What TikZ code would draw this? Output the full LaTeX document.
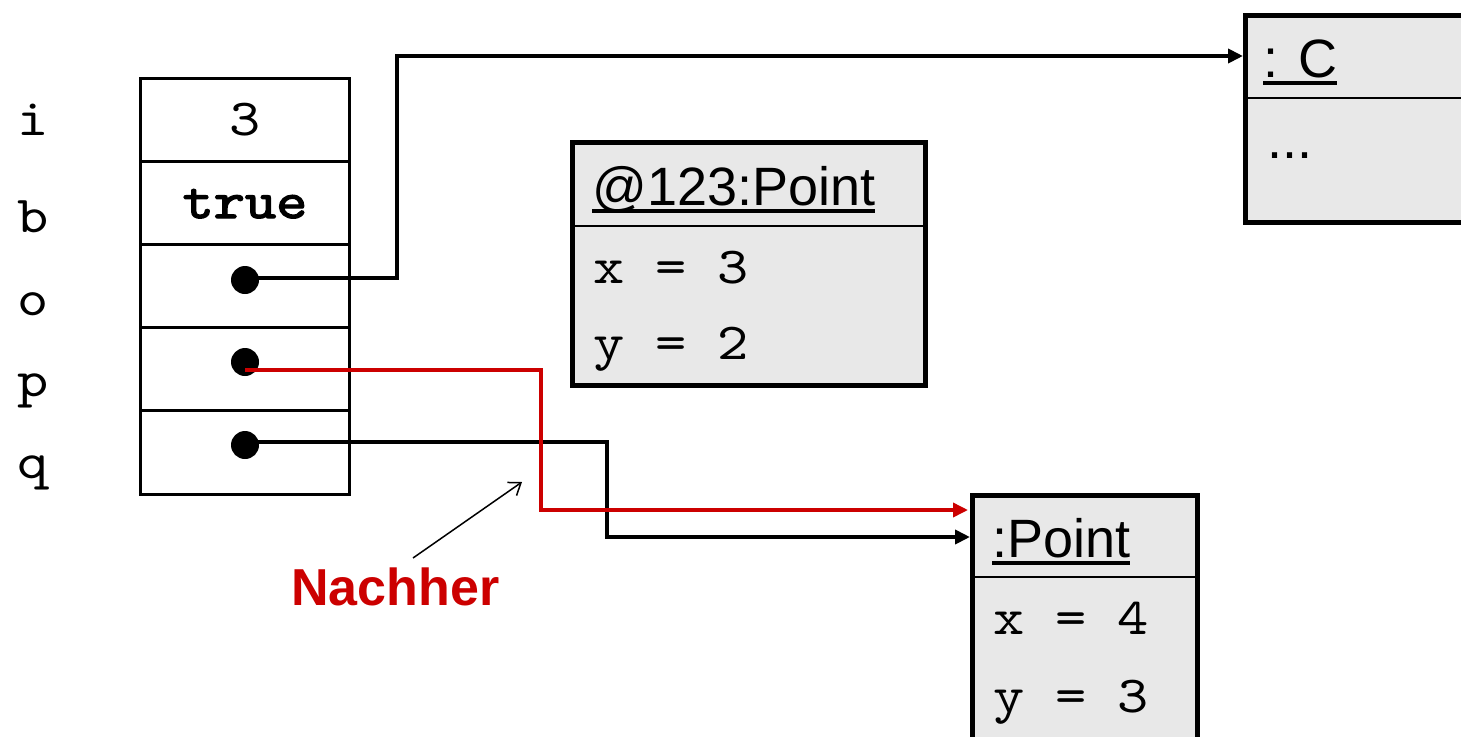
\documentclass[tikz,border=0pt]{standalone}
\usepackage{fontspec}
\setmainfont{Liberation Sans}
\newfontfamily\monofam[FakeStretch=1.143]{lmmono10-regular.otf}
\newfontfamily\monobfam[FakeStretch=1.143,FakeBold=2.5]{lmmono10-regular.otf}
\usetikzlibrary{arrows.meta}
\definecolor{boxgray}{HTML}{E8E8E8}
\definecolor{nred}{HTML}{CC0000}
\newcommand\ulx[1]{\setbox0=\hbox{#1}\rlap{\rule[-8pt]{\wd0}{4pt}}\box0}
\tikzset{
  mono/.style={font=\monofam\fontsize{52}{60}\selectfont, inner sep=0pt},
  monobold/.style={font=\monobfam\fontsize{52}{60}\selectfont, inner sep=0pt},
  sans/.style={font=\fontsize{54}{62}\selectfont, inner sep=0pt},
  cell/.style={draw, line width=3pt},
  objbox/.style={draw, line width=5pt, fill=boxgray},
  divider/.style={line width=2.5pt},
  ref/.style={line width=4pt, -{Triangle[length=15pt,width=14pt]}},
  refred/.style={line width=3.5pt, nred, -{Triangle[length=15pt,width=14pt]}},
  dotmark/.style={circle, fill=black, minimum size=28pt, inner sep=0pt},
}
\begin{document}
\begin{tikzpicture}[x=1pt,y=-1pt]
\useasboundingbox (0,0) rectangle (1461,736);
\clip (0,0) rectangle (1461,736);
\fill[white] (0,0) rectangle (1461,736);

% variable labels
\node[mono, anchor=base] (li) at (33,135) {i};
\node[mono, anchor=base] (lb) at (33,232) {b};
\node[mono, anchor=base] (lo) at (33,315) {o};
\node[mono, anchor=base] (lp) at (33,396) {p};
\node[mono, anchor=base] (lq) at (33,478) {q};

% stack cells
\draw[cell] (140,78) rectangle (349,161);
\draw[cell] (140,161) rectangle (349,244);
\draw[cell] (140,244) rectangle (349,327);
\draw[cell] (140,327) rectangle (349,410);
\draw[cell] (140,410) rectangle (349,494);
\node[mono, anchor=base] (vi) at (245,135) {3};
\node[monobold, anchor=base] (vb) at (245,218) {true};
\node[dotmark] (dO) at (245,280) {};
\node[dotmark] (dP) at (245,362) {};
\node[dotmark] (dQ) at (245,445) {};

% object : C
\draw[objbox] (1245,15) rectangle (1480,222);
\draw[divider] (1245,98) -- (1480,98);
\coordinate (cin) at (1243,56);
\node[sans, anchor=base west] (ct) at (1263,77) {\ulx{: C}};
\node[sans, anchor=base west] (cdots) at (1267,158) {...};

% object @123:Point
\draw[objbox] (572,142) rectangle (925,385);
\draw[divider] (572,226) -- (925,226);
\node[sans, anchor=base west] (at) at (592,205) {\ulx{@123:Point}};
\node[mono, anchor=base west] (ax) at (593,283) {x = 3};
\node[mono, anchor=base west] (ay) at (593,359) {y = 2};

% object :Point
\draw[objbox] (972,495) rectangle (1197,760);
\draw[divider] (972,577) -- (1197,577);
\coordinate (pin1) at (968,510);
\coordinate (pin2) at (970,537);
\node[sans, anchor=base west] (pt) at (992,557) {\ulx{:Point}};
\node[mono, anchor=base west] (px) at (993,634) {x = 4};
\node[mono, anchor=base west] (py) at (993,712) {y = 3};

% references
\draw[ref] (dO.center) ++(0,-2) -- (397,278) -- (397,56) -- (cin);
\draw[ref] (dQ.center) ++(0,-3) -- (607,442) -- (607,537) -- (pin2);
\draw[refred] (245,370) -- (541,370) -- (541,510) -- (pin1);

% annotation
\node[font=\bfseries\fontsize{52}{60}\selectfont, text=nred, inner sep=0pt, anchor=base west] (nach) at (291,605) {Nachher};
\coordinate (nstart) at (413,558);
\coordinate (ntip) at (522,482);
\draw[line width=1.5pt, -{Straight Barb[length=11pt,width=16pt]}] (nstart) -- (ntip);
\end{tikzpicture}
\end{document}
